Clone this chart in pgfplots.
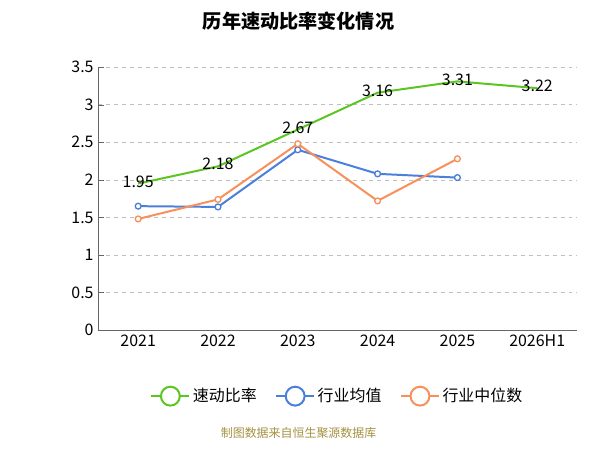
\documentclass[border=0pt]{standalone}
\usepackage{pgfplots}
\pgfplotsset{compat=1.18}
\usepackage{fontspec}
\setmainfont{Noto Sans CJK SC}
\definecolor{cg}{HTML}{5BC522}
\definecolor{cb}{HTML}{4A7FDB}
\definecolor{co}{HTML}{F7905A}
\begin{document}
\begin{tikzpicture}
\path[use as bounding box] (0,0) rectangle (15.875cm,11.906cm);
\node[font=\bfseries\Large] at (7.9cm,11.35cm) {历年速动比率变化情况};
\node[font=\small,text=black!50!yellow!80!orange] at (7.9cm,0.45cm) {制图数据来自恒生聚源数据库};
\begin{axis}[at={(2.6cm,3.17cm)},anchor=south west,width=12.67cm,height=6.96cm,scale only axis,
 xmin=-0.5,xmax=5.5,ymin=0,ymax=3.5,xtick={0,...,5},
 xticklabels={2021,2022,2023,2024,2025,2026H1},
 extra x ticks={-0.5,0.5,1.5,2.5,3.5,4.5,5.5},extra x tick labels={},
 extra x tick style={grid=none,major tick length=5pt},
 major x tick style={draw=none},
 ytick={0,0.5,...,3.5},yticklabels={0,0.5,1,1.5,2,2.5,3,3.5},
 ymajorgrids,grid style={dashed,gray!50},
 axis x line*=bottom,axis y line*=left,
 axis line style={gray!80!black},tick style={gray!80!black},
 tick label style={font=\large},
 /pgf/number format/assume math mode=true,
 legend style={at={(0.5,-0.2)},anchor=north,draw=none,legend columns=3,font=\large,/tikz/every even column/.append style={column sep=12pt}},
 legend image code/.code={\draw[#1,mark=none] (0cm,0cm)--(1cm,0cm); \draw[#1,mark=none,fill=white] (0.5cm,0cm) circle (2.5mm);},
]
\addplot[cg,line width=1.5pt,mark=none,nodes near coords,point meta=explicit symbolic,
 every node near coord/.append style={font=\large,black,anchor=south,yshift=-7pt}] coordinates {(0,1.95)[1.95] (1,2.18)[2.18] (2,2.67)[2.67] (3,3.16)[3.16] (4,3.31)[3.31] (5,3.22)[3.22]};
\addlegendentry{速动比率}
\addplot[cb,line width=1.5pt,mark=*,mark size=2.2pt,mark options={fill=white,line width=1pt}] coordinates {(0,1.65) (1,1.64) (2,2.40) (3,2.08) (4,2.03)};
\addlegendentry{行业均值}
\addplot[co,line width=1.5pt,mark=*,mark size=2.2pt,mark options={fill=white,line width=1pt}] coordinates {(0,1.48) (1,1.74) (2,2.48) (3,1.72) (4,2.28)};
\addlegendentry{行业中位数}
\end{axis}
\end{tikzpicture}
\end{document}
